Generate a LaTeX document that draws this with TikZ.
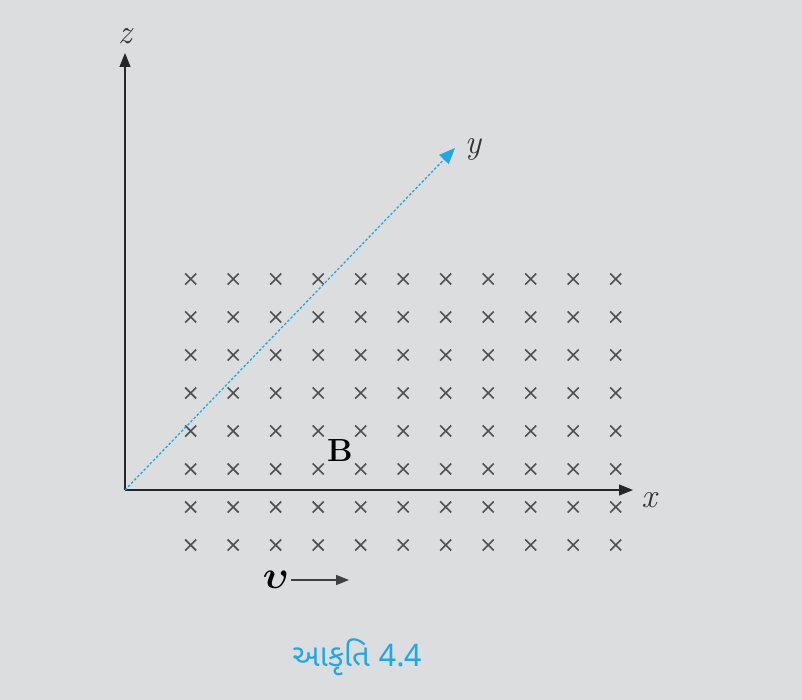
\documentclass[tikz,border=0pt]{standalone}
\usepackage{fontspec}
\usepackage{amsmath}
\usepackage{graphicx}
\newfontfamily\gujfont[Script=Gujarati]{Noto Sans Gujarati UI}
\usetikzlibrary{arrows.meta}
\definecolor{bgc}{HTML}{DCDDDF}
\definecolor{cyanc}{HTML}{1EA8E6}
\definecolor{crossc}{HTML}{505050}
\tikzset{
  axis/.style={line width=1.1pt, draw=black!85, -{Triangle[length=14pt,width=11pt]}},
  yaxis/.style={line width=1.3pt, draw=cyanc, dash pattern=on 2.5pt off 2pt, -{Triangle[length=16pt,width=13pt]}},
  lbl/.style={font=\fontsize{34}{38}\selectfont\itshape, text=black!80, inner sep=0pt},
  crossmark/.style={line width=1.7pt, draw=crossc},
}
\begin{document}
\begin{tikzpicture}[x=1pt,y=-1pt]
\useasboundingbox (0,0) rectangle (802,700);
\fill[bgc] (0,0) rectangle (802,700);
% crosses
\foreach \i in {0,...,10}{
  \foreach \j in {0,...,7}{
    \draw[crossmark] ({190.7+42.5*\i-5.5},{279+38*\j-5.5}) -- ++(11,11)
                     ({190.7+42.5*\i-5.5},{279+38*\j+5.5}) -- ++(11,-11);
  }
}
\coordinate (o) at (125,490);
\coordinate (zt) at (125,53);
\coordinate (xt) at (633,490);
\coordinate (yt) at (455,148);
\draw[axis] (o) -- (zt);
\draw[axis] (o) -- (xt);
\draw[yaxis] (o) -- (yt);
\node[lbl] (zl) at (125,36) {z};
\node[lbl] (xl) at (649,500) {x};
\node[lbl] (yl) at (473,149) {y};
\node[font=\fontsize{32}{36}\selectfont\bfseries, inner sep=0pt] (B) at (340,451) {B};
\node[inner sep=0pt] (v) at (276,580) {\scalebox{3.9}{$\boldsymbol{\upsilon}$}};
\coordinate (vs) at (291,580);
\coordinate (vt) at (349,580);
\draw[line width=1.6pt, draw=black!75, -{Triangle[length=13pt,width=10pt]}] (vs) -- (vt);
\node[text=cyanc, font=\gujfont\fontsize{31}{35}\selectfont] (cap) at (357,657) {આકૃતિ 4.4};
\end{tikzpicture}
\end{document}
